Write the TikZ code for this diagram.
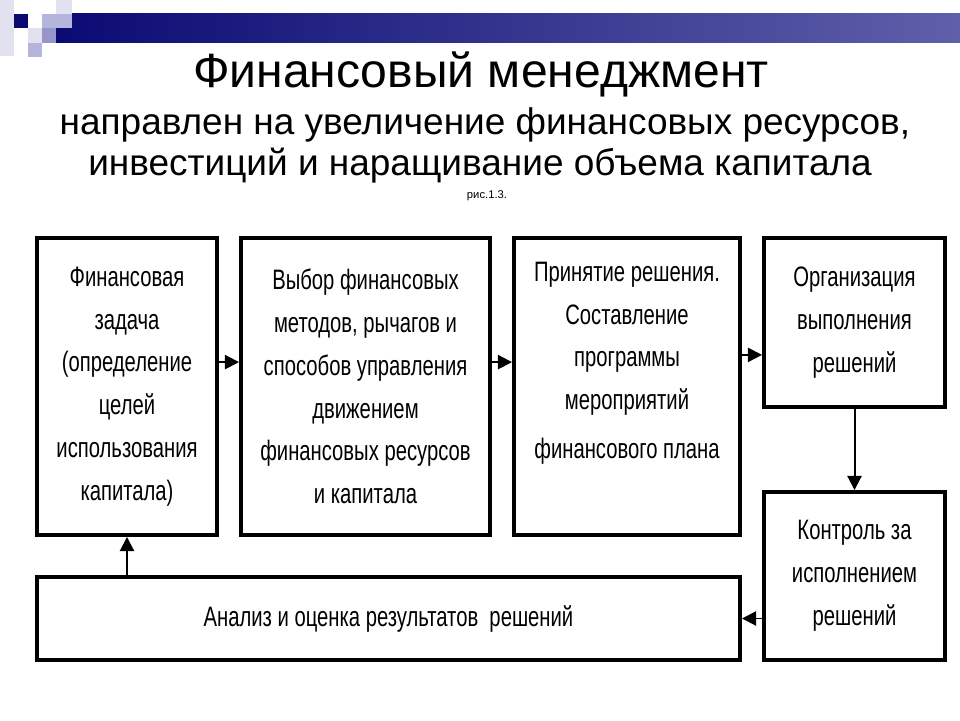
\documentclass[tikz,border=0pt]{standalone}
\usepackage{fontspec}
\setmainfont{Liberation Sans}
\newfontfamily\narrowfont[FakeStretch=0.72]{Liberation Sans}
\usetikzlibrary{arrows.meta}
\definecolor{navydark}{RGB}{10,10,115}
\definecolor{navylight}{RGB}{95,95,170}
\definecolor{lavA}{RGB}{225,225,240}
\definecolor{lavB}{RGB}{180,180,220}
\definecolor{lavC}{RGB}{150,150,200}
\tikzset{
  box/.style={draw,line width=2.8pt,align=center,font=\narrowfont\fontsize{20}{30.5}\selectfont,inner sep=0pt},
  arr/.style={line width=1.4pt,-{Triangle[length=10pt,width=10pt]}}
}
\begin{document}
\begin{tikzpicture}
\useasboundingbox (0,0) rectangle (24,18);
% top bar and squares
\shade[left color=navydark,right color=navylight] (1.4,16.925) rectangle (24,17.65);
\fill[lavA] (0,16.6) rectangle (0.35,18);
\fill[navydark] (0.35,17.3) rectangle (0.7,17.65);
\fill[lavA] (0.7,16.925) rectangle (1.05,17.3);
\fill[lavB] (1.05,17.3) rectangle (1.4,17.65);
\fill[lavA] (1.4,17.65) rectangle (1.8,18);
\fill[lavB] (1.4,17.3) rectangle (1.8,17.65);
\fill[lavC] (1.05,16.925) rectangle (1.4,17.3);
\fill[lavB] (0.7,16.575) rectangle (1.05,16.925);

% title
\node[anchor=base,font=\fontsize{34.2}{38}\selectfont] (title) at (12.02,15.8) {Финансовый менеджмент};
\node[anchor=base,font=\fontsize{26.3}{30}\selectfont] (subA) at (12.125,14.625) {направлен на увеличение финансовых ресурсов,};
\node[anchor=base,font=\fontsize{26.3}{30}\selectfont] (subB) at (12,13.625) {инвестиций и наращивание объема капитала};
\node[anchor=base,font=\fontsize{8}{10}\selectfont] (fig) at (12.175,13.05) {рис.1.3.};

% boxes
\node[box,minimum width=4.5cm,minimum height=7.425cm] (b1) at (3.175,8.3375)
  {Финансовая\\задача\\(определение\\целей\\использования\\капитала)};
\node[box,minimum width=6.225cm,minimum height=7.425cm] (b2) at (9.1375,8.3375)
  {Выбор финансовых\\методов, рычагов и\\способов управления\\движением\\финансовых ресурсов\\и капитала};
\node[box,minimum width=5.65cm,minimum height=7.425cm] (b3) at (15.675,8.3375)
  {Принятие решения.\\Составление\\программы\\мероприятий\\[4pt]финансового плана\\[0.25cm]};
\node[box,minimum width=4.525cm,minimum height=4.225cm] (b4) at (21.3625,9.9375)
  {Организация\\выполнения\\решений};
\node[box,minimum width=4.525cm,minimum height=4.2cm] (b5) at (21.3625,3.6)
  {Контроль за\\исполнением\\решений};
\node[box,minimum width=17.575cm,minimum height=2.075cm] (b6) at (9.7125,2.5375)
  {Анализ и оценка результатов\ \ решений};

% connectors
\draw[arr] ([yshift=0.61cm]b1.east) -- ([yshift=0.61cm]b2.west);
\draw[arr] ([yshift=0.61cm]b2.east) -- ([yshift=0.61cm]b3.west);
\draw[arr] ([yshift=0.79cm]b3.east) -- ([yshift=0.79cm]b3.east -| b4.west);
\draw[arr] (b4.south) -- (b5.north);
\draw[arr] (b5.west |- b6.east) -- (b6.east);
\draw[arr] (b6.north -| b1.south) -- (b1.south);
\end{tikzpicture}
\end{document}
